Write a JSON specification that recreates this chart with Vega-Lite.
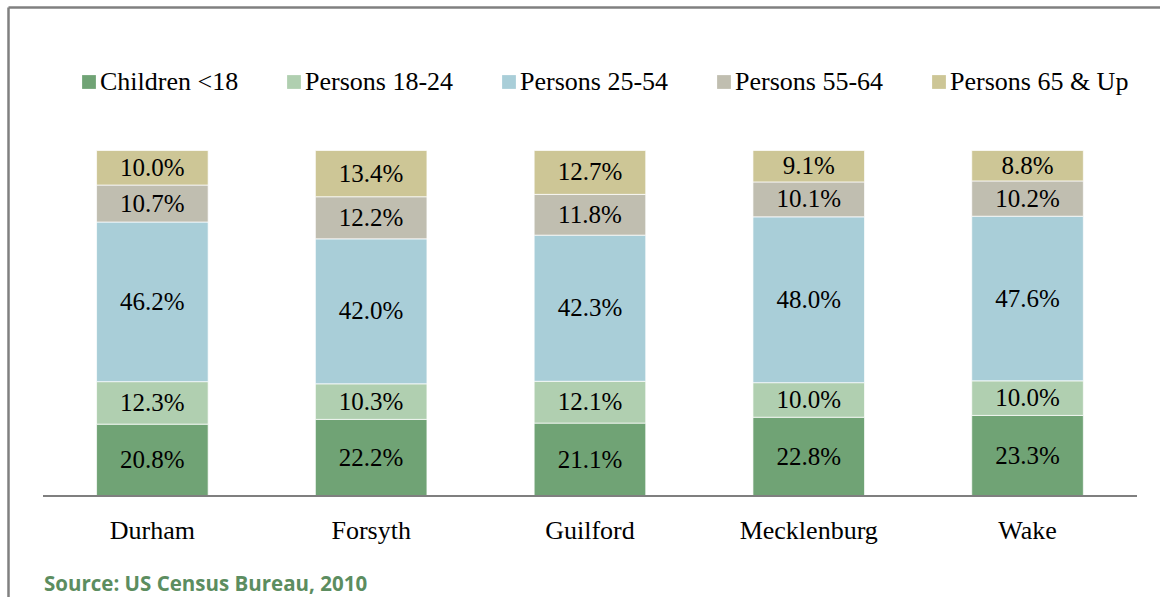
{
  "$schema": "https://vega.github.io/schema/vega-lite/v6.json",
  "width": 1152,
  "height": 590,
  "autosize": {"type": "none"},
  "padding": {"left": 8, "top": 7, "right": 0, "bottom": 0},
  "background": "#ffffff",
  "title": {
    "text": "Source: US Census Bureau, 2010",
    "orient": "bottom",
    "anchor": "start",
    "frame": "group",
    "offset": -22,
    "dx": 36,
    "font": "Open Sans",
    "fontWeight": "bold",
    "fontSize": 20.5,
    "color": "#5c8d60"
  },
  "data": {
    "values": [
      {"county": "Durham", "group": "Children <18", "pct": 0.208},
      {"county": "Durham", "group": "Persons 18-24", "pct": 0.123},
      {"county": "Durham", "group": "Persons 25-54", "pct": 0.462},
      {"county": "Durham", "group": "Persons 55-64", "pct": 0.107},
      {"county": "Durham", "group": "Persons 65 & Up", "pct": 0.100},
      {"county": "Forsyth", "group": "Children <18", "pct": 0.222},
      {"county": "Forsyth", "group": "Persons 18-24", "pct": 0.103},
      {"county": "Forsyth", "group": "Persons 25-54", "pct": 0.420},
      {"county": "Forsyth", "group": "Persons 55-64", "pct": 0.122},
      {"county": "Forsyth", "group": "Persons 65 & Up", "pct": 0.134},
      {"county": "Guilford", "group": "Children <18", "pct": 0.211},
      {"county": "Guilford", "group": "Persons 18-24", "pct": 0.121},
      {"county": "Guilford", "group": "Persons 25-54", "pct": 0.423},
      {"county": "Guilford", "group": "Persons 55-64", "pct": 0.118},
      {"county": "Guilford", "group": "Persons 65 & Up", "pct": 0.127},
      {"county": "Mecklenburg", "group": "Children <18", "pct": 0.228},
      {"county": "Mecklenburg", "group": "Persons 18-24", "pct": 0.100},
      {"county": "Mecklenburg", "group": "Persons 25-54", "pct": 0.480},
      {"county": "Mecklenburg", "group": "Persons 55-64", "pct": 0.101},
      {"county": "Mecklenburg", "group": "Persons 65 & Up", "pct": 0.091},
      {"county": "Wake", "group": "Children <18", "pct": 0.233},
      {"county": "Wake", "group": "Persons 18-24", "pct": 0.100},
      {"county": "Wake", "group": "Persons 25-54", "pct": 0.476},
      {"county": "Wake", "group": "Persons 55-64", "pct": 0.102},
      {"county": "Wake", "group": "Persons 65 & Up", "pct": 0.088}
    ]
  },
  "layer": [
    {
      "mark": {"type": "bar", "stroke": "#ffffff", "strokeWidth": 1, "strokeOpacity": 0.7},
      "encoding": {
        "x": {
          "field": "county",
          "type": "nominal",
          "sort": null,
          "scale": {"paddingInner": 0.49, "paddingOuter": 0.3776, "align": 0.536},
          "axis": {
            "orient": "bottom",
            "offset": -101,
            "domain": false,
            "ticks": false,
            "labelAngle": 0,
            "labelFont": "Liberation Serif",
            "labelFontSize": 26,
            "labelColor": "#000000",
            "labelPadding": 21,
            "title": null
          }
        },
        "y": {
          "field": "pct",
          "type": "quantitative",
          "stack": "normalize",
          "scale": {"domain": [-0.2923, 1.4153], "nice": false, "zero": false},
          "title": null
        },
        "color": {
          "field": "group",
          "type": "nominal",
          "scale": {
            "domain": ["Children <18", "Persons 18-24", "Persons 25-54", "Persons 55-64", "Persons 65 & Up"],
            "range": ["#70a375", "#b0cfb0", "#a9ced8", "#c0beb0", "#cdc696"]
          },
          "legend": {
            "orient": "none",
            "direction": "horizontal",
            "gridAlign": "none",
            "legendX": 68,
            "legendY": 62,
            "title": null,
            "symbolType": "square",
            "symbolSize": 190,
            "symbolStrokeWidth": 0,
            "symbolOpacity": 1,
            "labelFont": "Liberation Serif",
            "labelFontSize": 26,
            "labelColor": "#000000",
            "labelOffset": -2,
            "labelLimit": 400,
            "columnPadding": 42,
            "padding": 0
          }
        },
        "order": {"field": "group", "sort": "ascending"}
      }
    },
    {
      "mark": {"type": "text", "font": "Liberation Serif", "fontSize": 25, "color": "#000000", "baseline": "middle"},
      "encoding": {
        "x": {"field": "county", "type": "nominal", "sort": null, "axis": null},
        "y": {
          "field": "pct",
          "type": "quantitative",
          "stack": "normalize",
          "bandPosition": 0.5,
          "title": null
        },
        "detail": {"field": "group"},
        "order": {"field": "group", "sort": "ascending"},
        "text": {"field": "pct", "type": "quantitative", "format": ".1%"}
      }
    },
    {
      "mark": {"type": "rule", "color": "#7f7f7f", "strokeWidth": 2},
      "encoding": {
        "x": {
          "datum": "Durham",
          "type": "nominal",
          "bandPosition": -0.48,
          "axis": {
            "orient": "top",
            "domain": true,
            "domainColor": "#808080",
            "domainWidth": 2.5,
            "labels": false,
            "ticks": false,
            "title": null
          }
        },
        "x2": {"datum": "Wake", "bandPosition": 1.48},
        "y": {"datum": 0, "type": "quantitative", "title": null}
      }
    }
  ],
  "resolve": {"axis": {"x": "independent"}},
  "config": {
    "view": {"stroke": null},
    "axisY": {
      "domain": true,
      "domainColor": "#808080",
      "domainWidth": 2.5,
      "labels": false,
      "ticks": false,
      "grid": false,
      "title": null
    }
  }
}
